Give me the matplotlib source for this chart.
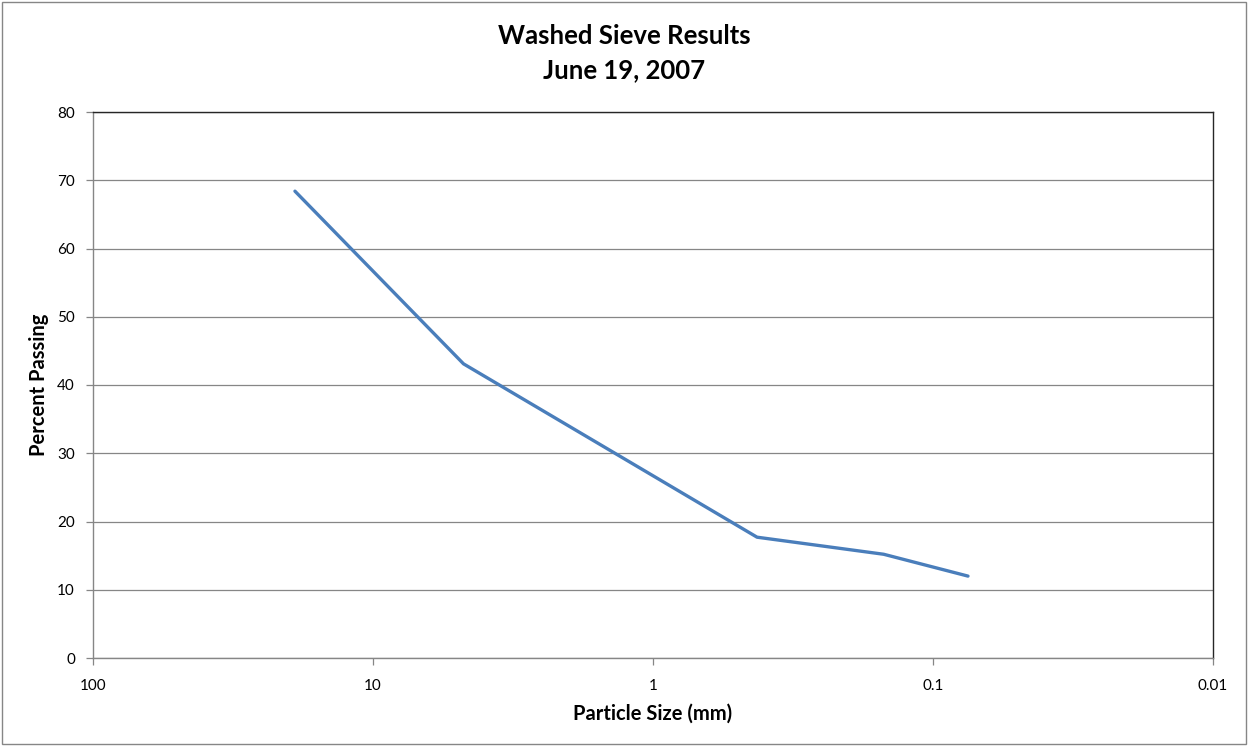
import matplotlib
matplotlib.use("Agg")
import matplotlib.pyplot as plt
from matplotlib.patches import Rectangle
from matplotlib.ticker import FixedLocator, NullLocator

plt.rcParams['font.family'] = ['Lato', 'DejaVu Sans']

# Sieve sizes (mm) and percent passing
particle_size_mm = [19.0, 4.75, 0.425, 0.15, 0.075]
percent_passing = [68.4, 43.1, 17.7, 15.2, 12.0]

x_ticks = [100, 10, 1, 0.1, 0.01]
x_tick_labels = ["100", "10", "1", "0.1", "0.01"]
y_ticks = [0, 10, 20, 30, 40, 50, 60, 70, 80]

fig = plt.figure(figsize=(12.48, 7.46), dpi=100)
ax = fig.add_axes([93 / 1248, 1 - 658 / 746, (1213 - 93) / 1248, (658 - 112) / 746])

ax.plot(particle_size_mm, percent_passing, color="#4A7EBB", lw=2.4,
        solid_joinstyle="round", solid_capstyle="round", zorder=3)

ax.set_xscale("log")
ax.set_xlim(100, 0.01)
ax.set_ylim(0, 80)
ax.xaxis.set_major_locator(FixedLocator(x_ticks))
ax.xaxis.set_minor_locator(NullLocator())
ax.set_xticklabels(x_tick_labels)
ax.set_yticks(y_ticks)

ax.grid(axis="y", color="#868686", lw=0.9)
ax.set_axisbelow(True)

for side in ("left", "bottom"):
    ax.spines[side].set_color("#868686")
    ax.spines[side].set_linewidth(1.0)
for side in ("top", "right"):
    ax.spines[side].set_color("#262626")
    ax.spines[side].set_linewidth(1.0)

ax.tick_params(axis="both", direction="out", length=5, width=0.9,
               color="#868686", labelsize=11, labelcolor="black")
ax.tick_params(axis="x", pad=10)
ax.tick_params(axis="y", pad=8)

ax.set_xlabel("Particle Size (mm)", fontsize=14.5, fontweight="bold", labelpad=8)
ax.set_ylabel("Percent Passing", fontsize=14.5, fontweight="bold", labelpad=6)

fig.text(0.5, 1 - 36 / 746, "Washed Sieve Results", ha="center", va="center",
         fontsize=18.5, fontweight="bold")
fig.text(0.5, 1 - 70 / 746, "June 19, 2007", ha="center", va="center",
         fontsize=18.5, fontweight="bold")

# Chart border around the whole figure
fig.patches.append(Rectangle((2 / 1248, 2 / 746), 1 - 4 / 1248, 1 - 4 / 746,
                             transform=fig.transFigure, fill=False,
                             edgecolor="#868686", lw=1.0))

fig.savefig("out.png", dpi=100)
